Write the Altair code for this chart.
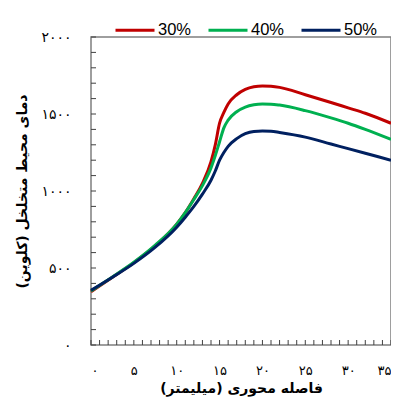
import altair as alt
import pandas as pd

x_mm = [0, 2.5, 5, 7.5, 10, 11, 12, 13, 14, 14.5, 15, 15.5, 16, 17, 18, 19, 20, 21, 22, 25, 28, 30, 32, 35]
s30 = [345, 440, 535, 645, 785, 860, 950, 1050, 1190, 1300, 1440, 1510, 1565, 1625, 1660, 1677, 1682, 1680, 1673, 1625, 1575, 1540, 1505, 1440]
s40 = [350, 442, 537, 648, 785, 860, 945, 1035, 1150, 1230, 1320, 1410, 1460, 1515, 1545, 1560, 1565, 1564, 1558, 1522, 1475, 1440, 1400, 1335]
s50 = [355, 440, 530, 635, 765, 830, 900, 980, 1070, 1130, 1200, 1250, 1290, 1340, 1372, 1387, 1390, 1388, 1380, 1350, 1305, 1275, 1245, 1200]

series_names = ["30%", "40%", "50%"]
series_colors = ["#C00000", "#00B050", "#002060"]

x_tick_values = [0, 5, 10, 15, 20, 25, 30, 35]
x_tick_labels = ["۰", "۵", "۱۰", "۱۵", "۲۰", "۲۵", "۳۰", "۳۵"]
y_tick_values = [0, 500, 1000, 1500, 2000]
y_tick_labels = ["۰", "۵۰۰", "۱۰۰۰", "۱۵۰۰", "۲۰۰۰"]
x_minor = list(range(0, 36))
y_minor = list(range(0, 2001, 100))

x_title = "فاصله محوری (میلیمتر)\u200f"
y_title = "دمای محیط متخلخل (کلوین)\u200f"

W, H = 300, 308

rows = []
for name, vals in zip(series_names, [s30, s40, s50]):
    for xv, yv in zip(x_mm, vals):
        rows.append({"x": xv, "y": yv, "s": name})
df = pd.DataFrame(rows)


def lab_expr(values, labels):
    pairs = ",".join(f"'{v}':'{l}'" for v, l in zip(values, labels))
    return "{" + pairs + "}[datum.value]"


xscale = alt.Scale(domain=[0, 35], nice=False)
yscale = alt.Scale(domain=[0, 2000], nice=False)
persian_font = "DejaVu Sans"

lines = alt.Chart(df).mark_line(strokeWidth=3, interpolate="monotone").encode(
    x=alt.X("x:Q", scale=xscale, axis=alt.Axis(
        values=x_tick_values, labelExpr=lab_expr(x_tick_values, x_tick_labels),
        ticks=False, domain=False, grid=False, labelPadding=19,
        labelFont=persian_font, labelFontSize=13, labelColor="#000",
        title=x_title, titleFont=persian_font, titleFontSize=14, titleFontWeight="bold",
        titleColor="#000", titlePadding=4)),
    y=alt.Y("y:Q", scale=yscale, axis=alt.Axis(
        values=y_tick_values, labelExpr=lab_expr(y_tick_values, y_tick_labels),
        ticks=False, domain=False, grid=False, labelPadding=20,
        labelFont=persian_font, labelFontSize=14, labelColor="#000",
        title=y_title, titleFont=persian_font, titleFontSize=14, titleFontWeight="bold",
        titleColor="#000", titlePadding=11)),
    color=alt.Color("s:N", scale=alt.Scale(domain=series_names, range=series_colors),
                    legend=alt.Legend(title=None, orient="none", legendX=23, legendY=-28,
                                      direction="horizontal", symbolType="stroke",
                                      symbolSize=1521, symbolStrokeWidth=3,
                                      labelFontSize=16.5, labelFont="Liberation Sans",
                                      labelColor="#000", columnPadding=10,
                                      labelOffset=2, padding=0)),
)

yt = alt.Chart(pd.DataFrame({"v": y_minor})).mark_rule(color="#404040", strokeWidth=1).encode(
    y=alt.Y("v:Q", scale=yscale), x=alt.value(0), x2=alt.value(5))
xt = alt.Chart(pd.DataFrame({"v": x_minor})).mark_rule(color="#404040", strokeWidth=1).encode(
    x=alt.X("v:Q", scale=xscale), y=alt.value(H), y2=alt.value(H - 5))

chart = alt.layer(yt, xt, lines).properties(
    width=W, height=H,
    background="white",
    autosize=alt.AutoSizeParams(type="none"),
    padding={"left": 83, "top": 29, "right": 0, "bottom": 52},
).configure_view(stroke="#7f7f7f", strokeWidth=1.5)

chart.save("out.html", embed_options={"renderer": "svg", "actions": False})
